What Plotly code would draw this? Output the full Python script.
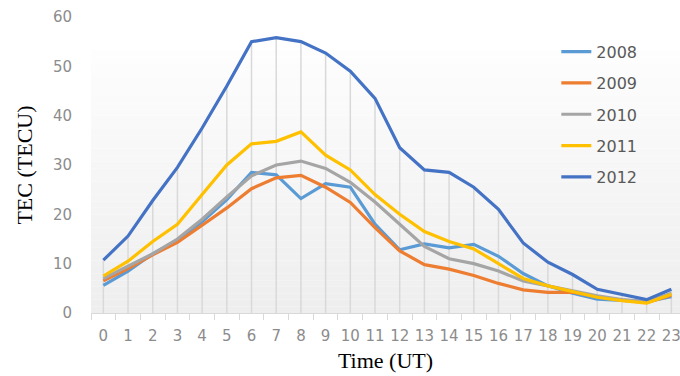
import plotly.graph_objects as go

hours = list(range(24))
hour_labels = [str(h) for h in hours]

tec_2008 = [5.6, 8.5, 12.0, 14.8, 18.5, 23.0, 28.5, 28.0, 23.2, 26.2, 25.5, 18.0,
            12.8, 14.0, 13.2, 13.9, 11.5, 8.0, 5.5, 4.0, 2.8, 2.5, 2.3, 3.3]
tec_2009 = [6.5, 9.0, 11.8, 14.3, 17.8, 21.3, 25.2, 27.4, 27.9, 25.5, 22.4, 17.3,
            12.6, 9.8, 8.9, 7.6, 6.0, 4.7, 4.2, 4.2, 3.3, 2.6, 2.1, 3.6]
tec_2010 = [7.0, 9.5, 12.0, 15.0, 19.0, 23.5, 27.8, 30.0, 30.8, 29.3, 26.5, 22.5,
            18.0, 13.5, 11.0, 10.0, 8.5, 6.5, 5.5, 4.5, 3.5, 2.7, 2.3, 4.0]
tec_2011 = [7.5, 10.5, 14.5, 18.0, 24.0, 30.0, 34.3, 34.8, 36.7, 32.0, 29.0, 24.0,
            20.0, 16.5, 14.5, 13.0, 10.0, 7.0, 5.5, 4.3, 3.2, 2.5, 2.0, 3.8]
tec_2012 = [10.7, 15.6, 22.8, 29.5, 37.5, 46.0, 55.0, 55.8, 55.0, 52.7, 49.0, 43.5,
            33.5, 29.0, 28.5, 25.5, 21.0, 14.2, 10.3, 7.8, 4.8, 3.8, 2.7, 4.8]

series = [("2008", tec_2008, "#5B9BD5"),
          ("2009", tec_2009, "#ED7D31"),
          ("2010", tec_2010, "#A5A5A5"),
          ("2011", tec_2011, "#FFC000"),
          ("2012", tec_2012, "#4472C4")]

fig = go.Figure()

# drop lines from the highest series down to the axis
top = [max(vals) for vals in zip(tec_2008, tec_2009, tec_2010, tec_2011, tec_2012)]
dx, dy = [], []
for h, t in zip(hours, top):
    dx += [h, h, None]
    dy += [0, t, None]
fig.add_trace(go.Scatter(x=dx, y=dy, mode="lines", line=dict(color="#d9d9d9", width=1.5),
                         showlegend=False, hoverinfo="skip"))

for i, (name, vals, col) in enumerate(series):
    fig.add_trace(go.Scatter(x=hours, y=vals, mode="lines", name=name,
                             legendgroup=name,
                             line=dict(color=col, width=3.2)))

# gradient background bands
shapes = []
n = 40
y_top = 0.8885
for i in range(n):
    y0 = y_top * i / n
    y1 = y_top * (i + 1) / n
    f = i / (n - 1)
    c = int(round(238 + (253 - 238) * f))
    shapes.append(dict(type="rect", xref="paper", yref="paper", x0=0, x1=1, y0=y0, y1=y1,
                       fillcolor=f"rgb({c},{c},{c})", line=dict(width=0), layer="below"))

fig.update_layout(
    width=680, height=376,
    margin=dict(l=91, r=0, t=17, b=63),
    paper_bgcolor="white", plot_bgcolor="rgba(0,0,0,0)",
    shapes=shapes,
    showlegend=True,
    legend=dict(x=0.79, y=0.94, xanchor="left", yanchor="top",
                font=dict(family="DejaVu Sans", size=16, color="#595959"),
                bgcolor="rgba(0,0,0,0)", tracegroupgap=7.5, traceorder="grouped"),
    xaxis=dict(range=[-0.5, 23.35], tickmode="array", tickvals=hours, ticktext=hour_labels,
               showgrid=False, zeroline=False, showline=True, linecolor="#d9d9d9", linewidth=1,
               ticks="", ticklabelstandoff=9, ticklabeloverflow="allow", automargin=False,
               tickfont=dict(family="DejaVu Sans", size=15, color="#8c8c8c"),
               minor=dict(tickmode="array", tickvals=[h - 0.5 for h in hours] + [23.5],
                          ticks="outside", ticklen=6, tickcolor="#d9d9d9", showgrid=False),
               title=dict(text="Time (UT)", font=dict(family="Liberation Serif", size=22, color="black"),
                          standoff=8)),
    yaxis=dict(range=[0, 60], tickvals=[0, 10, 20, 30, 40, 50, 60], showgrid=False, zeroline=False,
               showline=False, ticks="", ticklabelstandoff=18, automargin=False,
               tickfont=dict(family="DejaVu Sans", size=15, color="#8c8c8c"),
               title=dict(text="TEC (TECU)", font=dict(family="Liberation Serif", size=22, color="black"),
                          standoff=14)),
)

fig.write_html("out.html", post_script="document.body.style.margin='0';",
               config={"displayModeBar": False})
